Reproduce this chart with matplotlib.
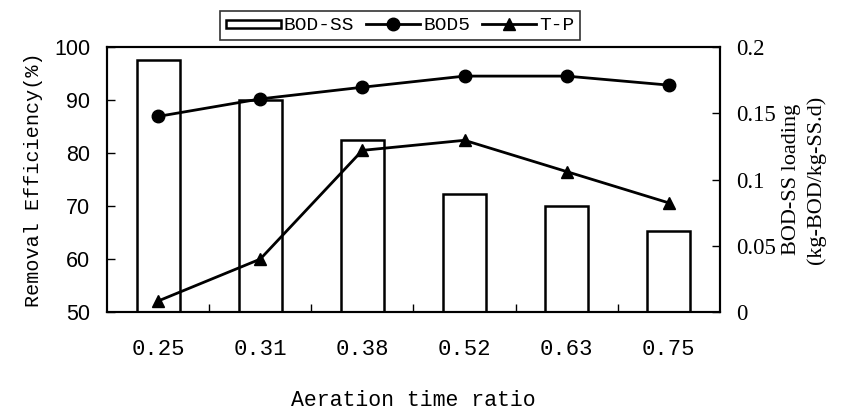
import matplotlib
matplotlib.use("Agg")
import matplotlib.pyplot as plt
import matplotlib.patches as mpatches
from matplotlib.legend_handler import HandlerPatch
from matplotlib.lines import Line2D

# data
ratios = ["0.25", "0.31", "0.38", "0.52", "0.63", "0.75"]
bod_ss = [0.19, 0.16, 0.13, 0.089, 0.08, 0.061]
bod5 = [86.9, 90.2, 92.4, 94.5, 94.5, 92.8]
tp = [52.1, 60.0, 80.5, 82.4, 76.5, 70.6]

mono = "Liberation Mono"
serif = "Liberation Serif"
sans = "Liberation Sans"

fig = plt.figure(figsize=(8.59, 4.19), dpi=100)
ax1 = fig.add_axes([0.1246, 0.255, 0.7134, 0.633])
ax2 = ax1.twinx()
ax1.set_zorder(ax2.get_zorder() + 1)
ax1.patch.set_visible(False)

x = list(range(len(ratios)))
ax2.bar(x, bod_ss, width=0.42, color="white", edgecolor="black", linewidth=1.8)
ax1.plot(x, bod5, color="black", lw=2, marker="o", ms=9)
ax1.plot(x, tp, color="black", lw=2, marker="^", ms=9)

ax1.set_xlim(-0.5, len(ratios) - 0.5)
ax1.set_ylim(50, 100)
ax2.set_ylim(0, 0.2)

ax1.set_xticks(x)
ax1.set_xticklabels(ratios, family=mono, fontsize=16)
ax1.tick_params(axis="x", which="major", length=0, pad=19)
ax1.set_xticks([i + 0.5 for i in x[:-1]], minor=True)
ax1.tick_params(axis="x", which="minor", direction="in", length=6, width=1)

ax1.set_yticks([50, 60, 70, 80, 90, 100])
ax1.set_yticklabels(["50", "60", "70", "80", "90", "100"], family=sans, fontsize=15.5)
ax1.tick_params(axis="y", direction="in", length=6, width=1, pad=12)

ax2.set_yticks([0, 0.05, 0.1, 0.15, 0.2])
ax2.set_yticklabels(["0", "0.05", "0.1", "0.15", "0.2"], family=serif, fontsize=16.5)
ax2.tick_params(axis="y", direction="in", length=6, width=1, pad=12)

for ax in (ax1, ax2):
    for s in ax.spines.values():
        s.set_linewidth(1.5)

ax1.set_ylabel("Removal Efficiency(%)", family=mono, fontsize=14.5, labelpad=8)
ax2.set_ylabel("BOD-SS loading\n(kg-BOD/kg-SS.d)", family=serif, fontsize=16,
               labelpad=4, linespacing=1.35)
ax1.set_xlabel("Aeration time ratio", family=mono, fontsize=15.5, labelpad=22)


def flat_rect(legend, orig_handle, xdescent, ydescent, width, height, fontsize):
    return mpatches.Rectangle((-xdescent, -ydescent + height * 0.2), width, height * 0.55)


handles = [
    mpatches.Patch(facecolor="white", edgecolor="black", linewidth=1.8),
    Line2D([], [], color="black", lw=2, marker="o", ms=9),
    Line2D([], [], color="black", lw=2, marker="^", ms=9),
]
leg = fig.legend(handles, ["BOD-SS", "BOD5", "T-P"], loc="upper center",
                 bbox_to_anchor=(0.466, 0.997), ncol=3, frameon=True, fancybox=False,
                 edgecolor="black", handlelength=2.8, handletextpad=0.15,
                 columnspacing=0.6, borderpad=0.3, prop={"family": mono, "size": 14},
                 handler_map={mpatches.Patch: HandlerPatch(patch_func=flat_rect)})
leg.get_frame().set_linewidth(1.2)

fig.savefig("out.png", dpi=100)
